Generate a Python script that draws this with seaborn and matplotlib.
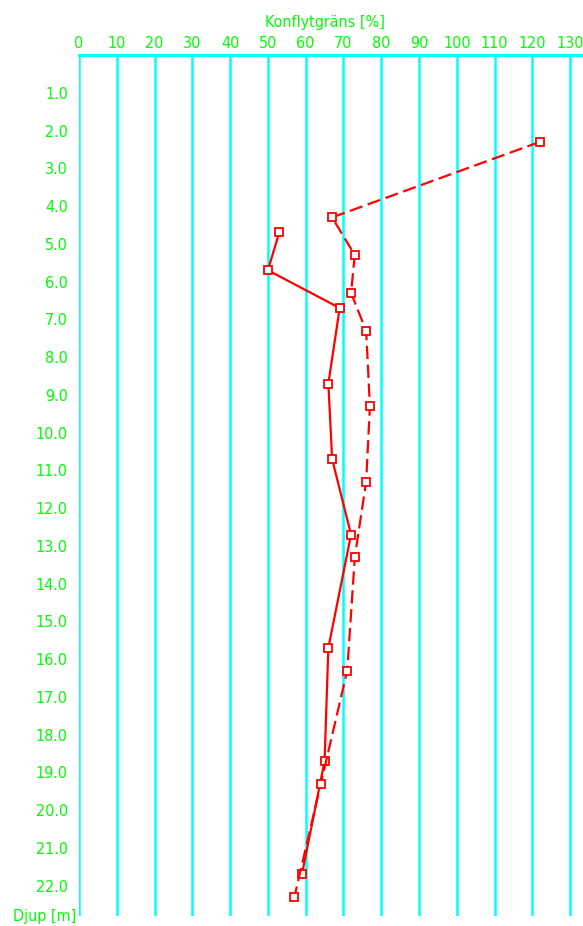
import pandas as pd
import matplotlib.pyplot as plt
import seaborn as sns

# Konflytgräns vs djup, two sample series
solid_depth = [4.7, 5.7, 6.7, 8.7, 10.7, 12.7, 15.7, 18.7, 21.7]
solid_value = [53, 50, 69, 66, 67, 72, 66, 65, 59]

dashed_depth = [2.3, 4.3, 5.3, 6.3, 7.3, 9.3, 11.3, 13.3, 16.3, 19.3, 22.3]
dashed_value = [122, 67, 73, 72, 76, 77, 76, 73, 71, 64, 57]

x_ticks = list(range(0, 140, 10))
y_ticks = list(range(1, 23))
y_labels = [f"{d:.1f}" for d in y_ticks]

GREEN = "#00ff00"
CYAN = "#00ffff"
RED = "#ff0000"

sns.set_style("white")
plt.rcParams["font.family"] = ["DejaVu Sans"]
plt.rcParams["font.stretch"] = "condensed"

fig = plt.figure(figsize=(5.83, 9.26), dpi=100)
ax = fig.add_axes([79 / 583, 1 - 916 / 926, 1 - 79 / 583, (916 - 55) / 926])

df_solid = pd.DataFrame({"value": solid_value, "depth": solid_depth})
df_dashed = pd.DataFrame({"value": dashed_value, "depth": dashed_depth})

# vertical grid lines
for xv in x_ticks:
    ax.axvline(xv, color=CYAN, lw=1.8, zorder=1)

sns.lineplot(data=df_solid, x="value", y="depth", sort=False, estimator=None,
             color=RED, lw=1.6, marker="s", markersize=6,
             markerfacecolor="white", markeredgecolor=RED, markeredgewidth=1.3,
             ax=ax, zorder=3)
sns.lineplot(data=df_dashed, x="value", y="depth", sort=False, estimator=None,
             color=RED, lw=1.6, marker="s", markersize=6, dashes=False,
             markerfacecolor="white", markeredgecolor=RED, markeredgewidth=1.3,
             linestyle=(0, (6, 2.5)), ax=ax, zorder=3)

ax.set_xlim(0, 133.4)
ax.set_ylim(22.8, 0)

ax.xaxis.tick_top()
ax.set_xticks(x_ticks)
ax.set_xticklabels([str(v) for v in x_ticks], color=GREEN, fontsize=11.5)
ax.tick_params(axis="x", length=0, pad=3)

ax.set_yticks(y_ticks)
ax.set_yticklabels(y_labels, color=GREEN, fontsize=11.5)
ax.tick_params(axis="y", length=5, width=1.3, color=CYAN, pad=3)

for side in ["right", "bottom", "left"]:
    ax.spines[side].set_visible(False)
ax.spines["top"].set_color(CYAN)
ax.spines["top"].set_linewidth(2.2)

ax.set_xlabel("")
ax.set_ylabel("")
ax.grid(False)

fig.text(325 / 583, 1 - 22 / 926, "Konflytgräns [%]", color=GREEN, fontsize=11.5,
         ha="center", va="center")
fig.text(45 / 583, 1 - 916 / 926, "Djup [m]", color=GREEN, fontsize=11.5,
         ha="center", va="center")

fig.savefig("out.png", dpi=100, facecolor="white")
